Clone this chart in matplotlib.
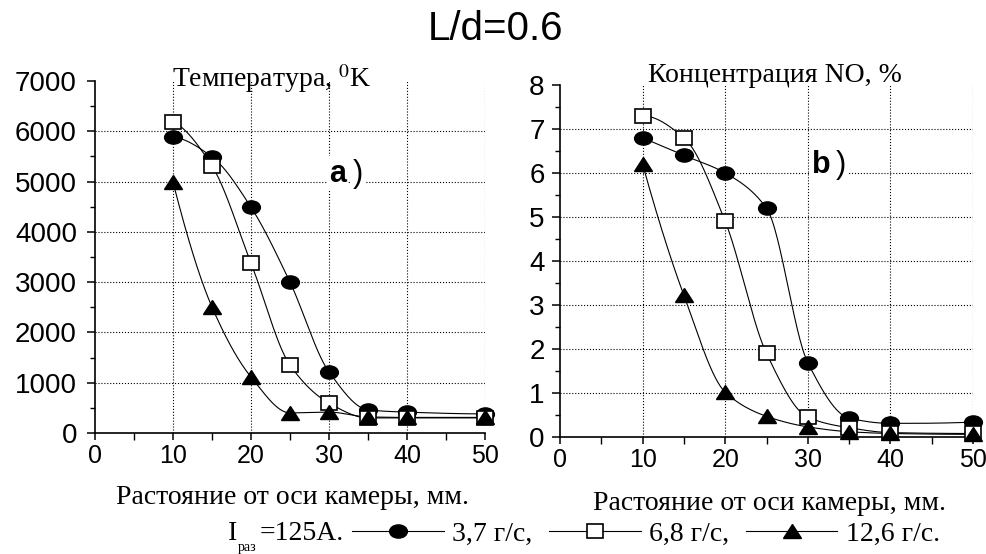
import numpy as np
import matplotlib
matplotlib.use('Agg')
import matplotlib.pyplot as plt
from matplotlib.lines import Line2D
from matplotlib.markers import MarkerStyle
from matplotlib.transforms import Affine2D

plt.rcParams['mathtext.fontset'] = 'stix'

# distance from chamber axis, mm
dist = [10, 15, 20, 25, 30, 35, 40, 50]

# temperature, K
temp_37 = [5890, 5490, 4490, 3000, 1215, 460, 415, 380]
temp_68 = [6190, 5310, 3380, 1350, 595, 300, 300, 300]
temp_126 = [4990, 2505, 1115, 400, 415, 320, 310, 310]

# NO concentration, %
no_37 = [6.8, 6.4, 6.0, 5.2, 1.69, 0.43, 0.31, 0.34]
no_68 = [7.3, 6.8, 4.9, 1.9, 0.45, 0.21, 0.10, 0.08]
no_126 = [6.2, 3.22, 1.02, 0.47, 0.23, 0.12, 0.08, 0.06]

series_labels = ['3,7 г/с,', '6,8 г/с,', '12,6 г/с.']

SANS = 'Liberation Sans'
SERIF = 'Liberation Serif'


def pchip(x, y, xs):
    # monotone cubic curve through the points
    x = np.asarray(x, float)
    y = np.asarray(y, float)
    h = np.diff(x)
    d = np.diff(y) / h
    m = np.zeros_like(y)
    for k in range(1, len(x) - 1):
        if d[k - 1] * d[k] > 0:
            w1 = 2 * h[k] + h[k - 1]
            w2 = h[k] + 2 * h[k - 1]
            m[k] = (w1 + w2) / (w1 / d[k - 1] + w2 / d[k])

    def end_slope(h0, h1, d0, d1):
        s = ((2 * h0 + h1) * d0 - h0 * d1) / (h0 + h1)
        if np.sign(s) != np.sign(d0):
            s = 0.0
        elif np.sign(d0) != np.sign(d1) and abs(s) > abs(3 * d0):
            s = 3 * d0
        return s

    m[0] = end_slope(h[0], h[1], d[0], d[1])
    m[-1] = end_slope(h[-1], h[-2], d[-1], d[-2])
    i = np.clip(np.searchsorted(x, xs) - 1, 0, len(h) - 1)
    t = (xs - x[i]) / h[i]
    h00 = 2 * t**3 - 3 * t**2 + 1
    h10 = t**3 - 2 * t**2 + t
    h01 = -2 * t**3 + 3 * t**2
    h11 = t**3 - t**2
    return h00 * y[i] + h10 * h[i] * m[i] + h01 * y[i + 1] + h11 * h[i] * m[i + 1]


circ = MarkerStyle('o', transform=Affine2D().scale(1.35, 1.0))
sq = MarkerStyle('s', transform=Affine2D().scale(1.15, 1.0))
tri = MarkerStyle('^', transform=Affine2D().scale(1.35, 1.0))
mstyles = [
    dict(marker=circ, markersize=9.5, markerfacecolor='black', markeredgecolor='black'),
    dict(marker=sq, markersize=9.5, markerfacecolor='white', markeredgecolor='black', markeredgewidth=1.2),
    dict(marker=tri, markersize=9.5, markerfacecolor='black', markeredgecolor='black'),
]

fig = plt.figure(figsize=(9.87, 5.54), dpi=100)
ax1 = fig.add_axes([95 / 987, 1 - 433 / 554, 390 / 987, 352 / 554])
ax2 = fig.add_axes([560 / 987, 1 - 437 / 554, 413 / 987, 352 / 554])


def style_axes(ax, ymax, ystep, ypad):
    ax.set_xlim(0, 50)
    ax.set_ylim(0, ymax)
    for s in ['top', 'right']:
        ax.spines[s].set_visible(False)
    for s in ['left', 'bottom']:
        ax.spines[s].set_linewidth(1.2)
    ax.set_xticks(range(0, 51, 10))
    ax.set_xticks(range(5, 51, 10), minor=True)
    yt = np.arange(0, ymax + ystep / 2, ystep)
    ax.set_yticks(yt)
    ax.set_yticks(yt[:-1] + ystep / 2, minor=True)
    ax.tick_params(axis='y', which='major', direction='out', length=6, width=1.1, pad=ypad)
    ax.tick_params(axis='y', which='minor', direction='out', length=3.5, width=1.0)
    ax.tick_params(axis='x', which='major', direction='out', length=5, width=1.1, pad=3)
    ax.tick_params(axis='x', which='minor', direction='out', length=5, width=1.0)
    for lab in ax.get_yticklabels():
        lab.set_fontfamily(SANS)
        lab.set_fontsize(20)
    for lab in ax.get_xticklabels():
        lab.set_fontfamily(SANS)
        lab.set_fontsize(18)
    for v in range(10, 51, 10):
        ax.axvline(v, color='black', linestyle=':', linewidth=0.8, zorder=1)
    for v in yt[1:-1]:
        ax.axhline(v, color='black', linestyle=':', linewidth=0.8, zorder=1)


style_axes(ax1, 7000, 1000, 7)
style_axes(ax2, 8, 1, 5)

xs = np.linspace(10, 50, 400)
for ax, group in [(ax1, [temp_37, temp_68, temp_126]), (ax2, [no_37, no_68, no_126])]:
    for vals in group:
        ax.plot(xs, pchip(dist, vals, xs), color='black', linewidth=0.8, zorder=2)
    for vals, ms in zip(group, mstyles):
        ax.plot(dist, vals, linestyle='none', clip_on=False, zorder=3, **ms)

# panel captions
ax1.text(0.454, 1.008, 'Температура, $^0$K', transform=ax1.transAxes, ha='center',
         va='center', fontsize=20, family=SERIF)
ax2.text(0.52, 1.028, 'Концентрация NO, %', transform=ax2.transAxes, ha='center',
         va='center', fontsize=20, family=SERIF)

box = dict(boxstyle='square,pad=0.08', facecolor='white', edgecolor='none')
for ax, x, y, letter in [(ax1, 30.0, 5000, 'a'), (ax2, 30.5, 6, 'b')]:
    ax.text(x, y, letter, ha='left', va='baseline', fontsize=22, family=SANS,
            fontweight='bold', zorder=4, bbox=box)
    ax.annotate(')', xy=(x, y), xytext=(17, 0), textcoords='offset points',
                ha='left', va='baseline', fontsize=22, family=SANS, zorder=4, bbox=box)

fig.text(0.5025, 1 - 29 / 554, 'L/d=0.6', ha='center', va='center', fontsize=29, family=SANS)

fig.text(292 / 987, 1 - 497 / 554, 'Растояние от оси камеры, мм.', ha='center', va='center',
         fontsize=20, family=SERIF)
fig.text(770 / 987, 1 - 503 / 554, 'Растояние от оси камеры, мм.', ha='center', va='center',
         fontsize=20, family=SERIF)

# legend row
row_y = 1 - 534 / 554
fig.text(228 / 987, row_y, 'I', ha='left', va='center', fontsize=20, family=SERIF)
fig.text(238 / 987, 1 - 548 / 554, 'раз', ha='left', va='center', fontsize=10, family=SERIF)
fig.text(260 / 987, row_y, '=125A.', ha='left', va='center', fontsize=20, family=SERIF)

handles = [Line2D([], [], color='black', linewidth=0.8, **ms) for ms in mstyles]
fig.legend(handles, series_labels, loc='center left', bbox_to_anchor=(352 / 987, row_y),
           ncol=3, frameon=False, borderpad=0, borderaxespad=0, handlelength=3.3,
           handletextpad=0.3, columnspacing=0.6,
           prop={'family': SERIF, 'size': 20})

fig.savefig('out.png', dpi=100)
